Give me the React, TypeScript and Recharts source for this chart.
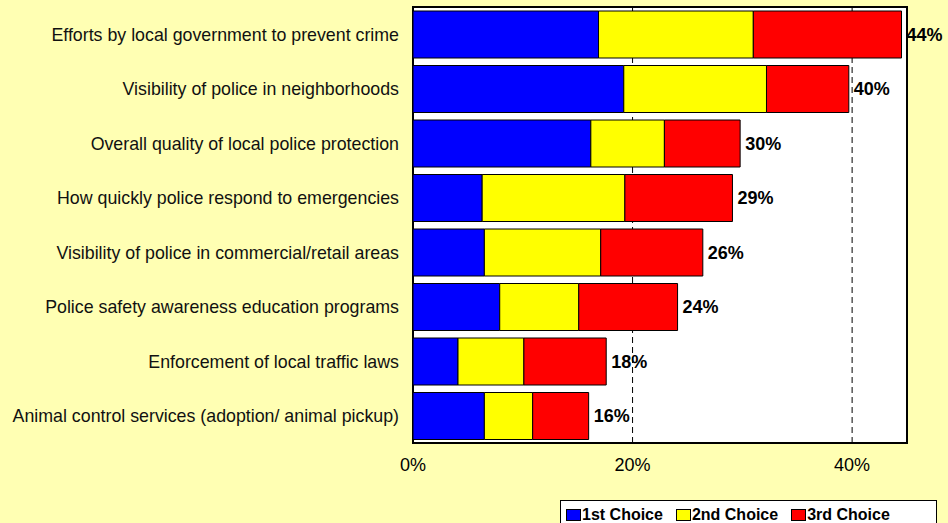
import { BarChart, Bar, XAxis, YAxis, CartesianGrid, LabelList, ReferenceArea } from "recharts";

const categories = [
  "Efforts by local government to prevent crime",
  "Visibility of police in neighborhoods",
  "Overall quality of local police protection",
  "How quickly police respond to emergencies",
  "Visibility of police in commercial/retail areas",
  "Police safety awareness education programs",
  "Enforcement of local traffic laws",
  "Animal control services (adoption/ animal pickup)",
];

const firstChoice = [16.9, 19.2, 16.2, 6.3, 6.5, 7.9, 4.1, 6.5];
const secondChoice = [14.1, 13.0, 6.7, 13.0, 10.6, 7.2, 6.0, 4.4];
const thirdChoice = [13.5, 7.5, 6.9, 9.8, 9.3, 9.0, 7.5, 5.1];
const totals = [44, 40, 30, 29, 26, 24, 18, 16];
const xTicks = [0, 20, 40];

const series = [
  { key: "first", name: "1st Choice", color: "#0000FF" },
  { key: "second", name: "2nd Choice", color: "#FFFF00" },
  { key: "third", name: "3rd Choice", color: "#FF0000" },
];

const data = categories.map((name, i) => ({
  name,
  first: firstChoice[i],
  second: secondChoice[i],
  third: thirdChoice[i],
  total: totals[i],
}));

const FONT = "'Liberation Sans', Arial, sans-serif";
const BG = "#FFFFB3";

export default function App() {
  return (
    <div
      style={{
        position: "absolute",
        left: 0,
        top: 0,
        width: 948,
        height: 523,
        background: BG,
        overflow: "hidden",
        fontFamily: FONT,
      }}
    >
      <BarChart
        width={948}
        height={523}
        data={data}
        layout="vertical"
        margin={{ top: 7, right: 41, left: 0, bottom: 50 }}
      >
        <CartesianGrid
          horizontal={false}
          fill="#FFFFFF"
          stroke="#000"
          strokeDasharray="6 4"
        />
        <XAxis
          type="number"
          domain={[0, 45]}
          ticks={xTicks}
          tickFormatter={(v) => `${v}%`}
          axisLine={false}
          tickLine={false}
          tickSize={0}
          tickMargin={15}
          height={30}
          tick={{ fontSize: 18, fill: "#000", fontFamily: FONT }}
        />
        <YAxis
          type="category"
          dataKey="name"
          width={413}
          axisLine={false}
          tickLine={false}
          tickSize={0}
          tickMargin={14}
          interval={0}
          tick={{ fontSize: 17.8, fill: "#111", fontFamily: FONT }}
        />
        {series.map((s, idx) => (
          <Bar
            key={s.key}
            dataKey={s.key}
            name={s.name}
            stackId="a"
            fill={s.color}
            stroke="#000"
            strokeWidth={1}
            barSize={47}
            isAnimationActive={false}
          >
            {idx === series.length - 1 && (
              <LabelList
                dataKey="total"
                position="right"
                offset={5}
                formatter={(v: any) => `${v}%`}
                style={{ fontSize: 18, fontWeight: "bold", fill: "#000", fontFamily: FONT }}
              />
            )}
          </Bar>
        ))}
        <ReferenceArea x1={0} x2={45} fill="none" stroke="#000" strokeWidth={2} ifOverflow="visible" />
      </BarChart>

      {/* Legend */}
      <div
        style={{
          position: "absolute",
          left: 560,
          top: 500,
          width: 377,
          height: 30,
          background: "#fff",
          border: "1px solid #000",
          boxSizing: "border-box",
          display: "flex",
          alignItems: "flex-start",
          paddingTop: 5,
          paddingLeft: 5,
          fontSize: 16,
          fontWeight: "bold",
          color: "#000",
        }}
      >
        {series.map((s) => (
          <div key={s.key} style={{ display: "flex", alignItems: "center", marginRight: 13, lineHeight: "18px" }}>
            <span
              style={{
                display: "inline-block",
                width: 15,
                height: 12,
                background: s.color,
                border: "1px solid #000",
                boxSizing: "border-box",
                marginRight: 1,
              }}
            />
            <span>{s.name}</span>
          </div>
        ))}
      </div>
    </div>
  );
}
